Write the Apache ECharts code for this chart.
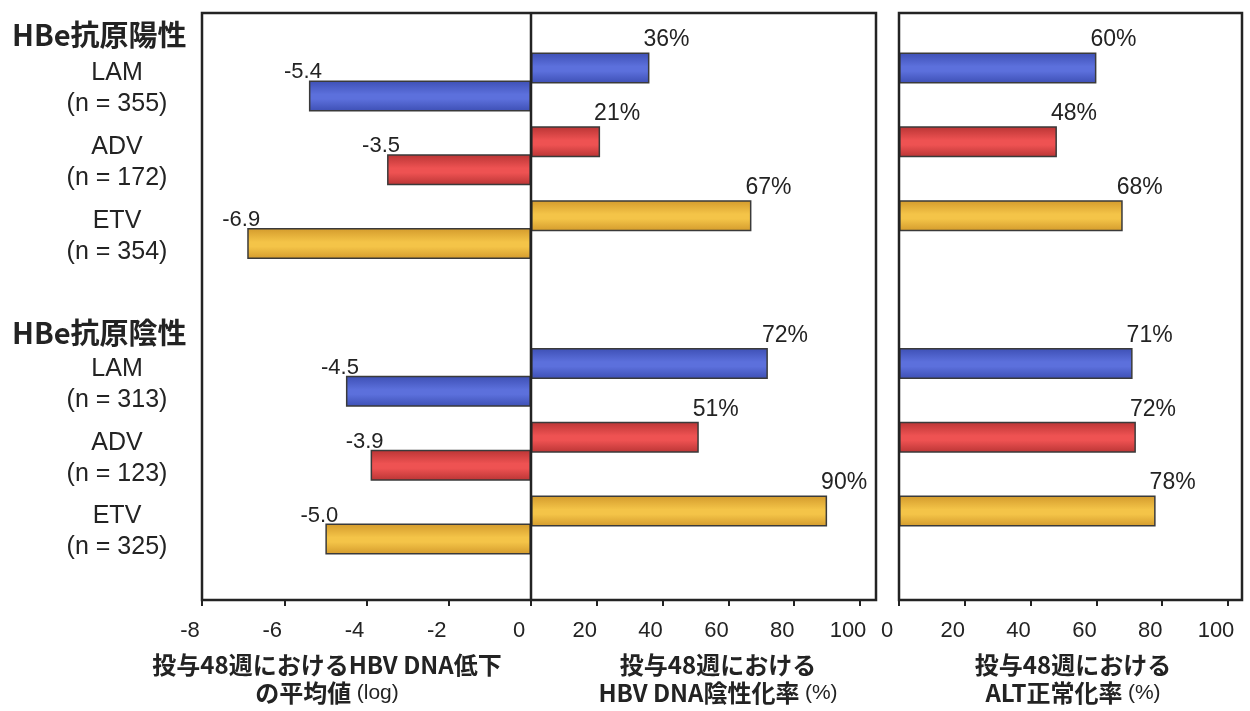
<!DOCTYPE html>
<html>
<head>
<meta charset="utf-8">
<script src="https://cdn.jsdelivr.net/npm/echarts@6/dist/echarts.min.js"></script>
<style>
  html, body { margin: 0; padding: 0; background: #fff; }
  #chart { width: 1250px; height: 711px; }
</style>
</head>
<body>
<div id="chart"></div>
<script>
// Drugs and study sizes for each HBeAg group
const drugs = ['LAM', 'ADV', 'ETV'];
const nPositive = [355, 172, 354];
const nNegative = [313, 123, 325];
const groupTitles = ['HBe抗原陽性', 'HBe抗原陰性'];

// Mean HBV DNA reduction at week 48 (log)
const dnaDropPositive = [-5.4, -3.5, -6.9];
const dnaDropNegative = [-4.5, -3.9, -5.0];
// HBV DNA undetectable rate at week 48 (%)
const dnaUndetPositive = [36, 21, 67];
const dnaUndetNegative = [72, 51, 90];
// ALT normalisation rate at week 48 (%)
const altNormPositive = [60, 48, 68];
const altNormNegative = [71, 72, 78];

// Axis scales
const dropAxis = { min: -8, max: 0, interval: 2 };
const pctAxis = { min: 0, max: 100, interval: 20 };

// Axis titles
const axisTitles = [
  '投与48週におけるHBV DNA低下\nの平均値 {p|(log)}',
  '投与48週における\nHBV DNA陰性化率 {p|(%)}',
  '投与48週における\nALT正常化率 {p|(%)}'
];

// ---- layout ----
const TOP = 45, HEIGHT = 517, AXIS_Y = 600, FRAME_TOP = 13;
const LABEL_DROP = 7;   // row labels sit slightly below the bar pairs
const panels = [
  { left: 202, width: 329 },
  { left: 531, width: 329 },
  { left: 899, width: 329 }
];
const LATIN = '"Liberation Sans", Arial, sans-serif';
const CJK = '"Noto Sans CJK JP", "Liberation Sans", sans-serif';
const INK = '#232323';

// rows: 3 positive, one spacer row, 3 negative
const categories = [];
drugs.forEach((d, i) => categories.push(d + '\n(n = ' + nPositive[i] + ')'));
categories.push(' ');
drugs.forEach((d, i) => categories.push(d + '\n(n = ' + nNegative[i] + ')'));

function barGradient(edge, mid) {
  return new echarts.graphic.LinearGradient(0, 0, 0, 1, [
    { offset: 0, color: edge },
    { offset: 0.45, color: mid },
    { offset: 0.6, color: mid },
    { offset: 1, color: edge }
  ]);
}
const drugFill = [
  barGradient('#3d4fb4', '#5c70dc'),
  barGradient('#b93434', '#ee5252'),
  barGradient('#d39a2c', '#f4c448')
];

function rows(pos, neg) {
  const items = [];
  pos.forEach((v, i) => items.push({ value: v, itemStyle: { color: drugFill[i] } }));
  items.push('-');
  neg.forEach((v, i) => items.push({ value: v, itemStyle: { color: drugFill[i] } }));
  return items;
}
const blankRows = categories.map(() => '-');

const barCommon = {
  type: 'bar',
  barWidth: 31,
  barGap: '-10%',
  silent: true,
  itemStyle: { borderColor: '#3a3a3a', borderWidth: 1.5 }
};

const posLabel = {
  show: true,
  position: ['100%', 0],
  align: 'left',
  verticalAlign: 'bottom',
  offset: [-6, -1],
  fontFamily: LATIN,
  fontSize: 23,
  color: INK,
  formatter: p => p.value + '%'
};
const negLabel = {
  show: true,
  position: [0, 0],
  align: 'center',
  verticalAlign: 'bottom',
  offset: [-6, 3],
  fontFamily: LATIN,
  fontSize: 22,
  color: INK,
  formatter: p => p.value.toFixed(1)
};

const grids = panels.map(p => ({
  left: p.left, width: p.width, top: TOP, height: HEIGHT,
  containLabel: false, outerBoundsMode: 'none'
}));
// grid carrying only the row labels
grids.push({
  left: panels[0].left, width: 10, top: TOP + LABEL_DROP, height: HEIGHT,
  containLabel: false, outerBoundsMode: 'none'
});

function valueAxis(i, scale, hideZero) {
  return {
    gridIndex: i, type: 'value',
    min: scale.min, max: scale.max, interval: scale.interval,
    position: 'bottom', offset: AXIS_Y - (TOP + HEIGHT),
    axisLine: { show: false },
    axisTick: { show: true, length: 6, lineStyle: { color: INK, width: 2 } },
    splitLine: { show: false },
    axisLabel: {
      fontFamily: LATIN, fontSize: 22, color: INK, margin: 20,
      padding: [0, 24, 0, 0],
      formatter: v => (hideZero && v === 0) ? '' : String(v)
    }
  };
}

const xAxes = [
  valueAxis(0, dropAxis, false),
  valueAxis(1, pctAxis, true),
  valueAxis(2, pctAxis, false),
  { gridIndex: 3, type: 'value', show: false }
];

const yAxes = [0, 1, 2].map(i => ({
  gridIndex: i, type: 'category', data: categories, inverse: true, show: false
}));
yAxes.push({
  gridIndex: 3, type: 'category', data: categories, inverse: true,
  axisLine: { show: false }, axisTick: { show: false }, splitLine: { show: false },
  axisLabel: {
    interval: 0, showMinLabel: true, showMaxLabel: true, hideOverlap: false,
    margin: 85, align: 'center', fontFamily: LATIN, fontSize: 25,
    lineHeight: 31, color: INK
  }
});

const series = [
  Object.assign({}, barCommon, { name: 'spacer0', xAxisIndex: 0, yAxisIndex: 0, data: blankRows }),
  Object.assign({}, barCommon, { name: 'HBV DNA低下', xAxisIndex: 0, yAxisIndex: 0,
    data: rows(dnaDropPositive, dnaDropNegative), label: negLabel }),
  Object.assign({}, barCommon, { name: 'HBV DNA陰性化率', xAxisIndex: 1, yAxisIndex: 1,
    data: rows(dnaUndetPositive, dnaUndetNegative), label: posLabel }),
  Object.assign({}, barCommon, { name: 'spacer1', xAxisIndex: 1, yAxisIndex: 1, data: blankRows }),
  Object.assign({}, barCommon, { name: 'ALT正常化率', xAxisIndex: 2, yAxisIndex: 2,
    data: rows(altNormPositive, altNormNegative), label: posLabel }),
  Object.assign({}, barCommon, { name: 'spacer2', xAxisIndex: 2, yAxisIndex: 2, data: blankRows })
];

// panel frames, group headings and axis titles
const frameStyle = { fill: 'none', stroke: INK, lineWidth: 2.5 };
const leftEdge = panels[0].left, midEdge = panels[1].left;
const graphics = [
  { type: 'rect', z: 10, silent: true,
    shape: { x: leftEdge, y: FRAME_TOP, width: 876 - leftEdge, height: AXIS_Y - FRAME_TOP },
    style: frameStyle },
  { type: 'line', z: 10, silent: true,
    shape: { x1: midEdge, y1: FRAME_TOP, x2: midEdge, y2: AXIS_Y },
    style: { stroke: INK, lineWidth: 2.5 } },
  { type: 'rect', z: 10, silent: true,
    shape: { x: panels[2].left, y: FRAME_TOP, width: 1242 - panels[2].left, height: AXIS_Y - FRAME_TOP },
    style: frameStyle },
  { type: 'text', x: 12, y: 35, silent: true,
    style: { text: groupTitles[0], font: 'bold 29px ' + CJK, fill: INK, verticalAlign: 'middle' } },
  { type: 'text', x: 12, y: 333, silent: true,
    style: { text: groupTitles[1], font: 'bold 29px ' + CJK, fill: INK, verticalAlign: 'middle' } }
];
const titleX = [327, 718, 1073];
axisTitles.forEach((t, i) => {
  graphics.push({
    type: 'text', x: titleX[i], y: 679, silent: true,
    style: {
      text: t, font: 'bold 24px ' + CJK, fill: INK,
      align: 'center', verticalAlign: 'middle', lineHeight: 28,
      rich: { p: { fontFamily: '"Liberation Sans Narrow", ' + LATIN, fontSize: 21, fontWeight: 'normal', fill: INK, lineHeight: 28 } }
    }
  });
});

const chart = echarts.init(document.getElementById('chart'), null, { renderer: 'canvas' });
chart.setOption({
  animation: false,
  backgroundColor: '#ffffff',
  grid: grids,
  xAxis: xAxes,
  yAxis: yAxes,
  series: series,
  graphic: graphics
});
</script>
</body>
</html>
